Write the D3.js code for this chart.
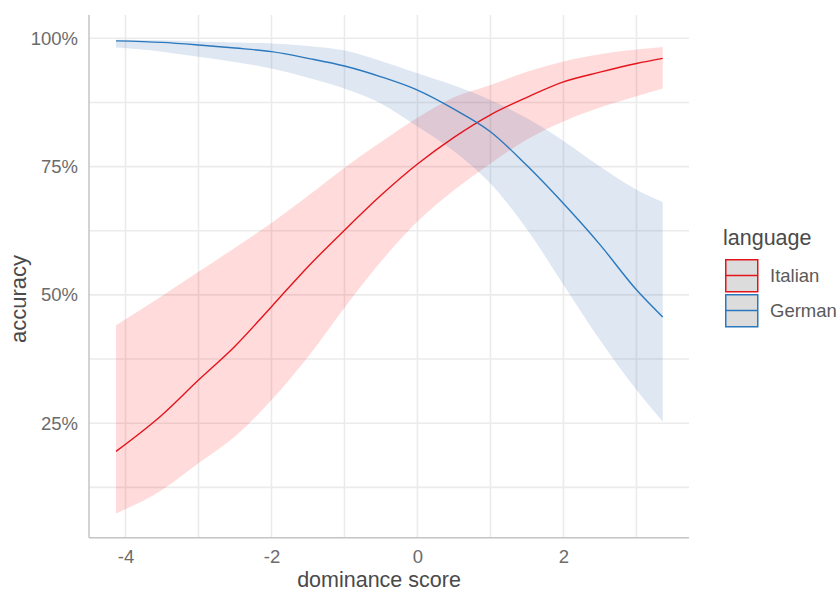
<!doctype html>
<html>
  <head>
    <script src="https://cdnjs.cloudflare.com/ajax/libs/d3/7.8.5/d3.min.js" type="text/JavaScript"></script>
    <style>
      body { margin: 0; background: #fff; }
      text { font-family: "Liberation Sans", Arial, sans-serif; }
    </style>
  </head>
  <body>
    <svg width="840" height="591"></svg>
    <script>
        // dominance score grid and predicted accuracy
        var scores = [-4.13, -3.5, -3, -2.5, -2, -1.5, -1, -0.5, 0, 0.5, 1, 1.5, 2, 2.5, 3, 3.36];

        var italianFit   = [0.195, 0.266, 0.334, 0.400, 0.477, 0.555, 0.626, 0.694, 0.755, 0.807, 0.851, 0.885, 0.915, 0.934, 0.951, 0.961];
        var italianLower = [0.074, 0.120, 0.172, 0.224, 0.295, 0.379, 0.475, 0.565, 0.643, 0.704, 0.756, 0.803, 0.838, 0.865, 0.887, 0.902];
        var italianUpper = [0.441, 0.498, 0.545, 0.592, 0.640, 0.693, 0.748, 0.798, 0.845, 0.885, 0.909, 0.935, 0.955, 0.969, 0.978, 0.983];

        var germanFit    = [0.995, 0.992, 0.987, 0.981, 0.974, 0.961, 0.946, 0.925, 0.899, 0.862, 0.818, 0.752, 0.678, 0.598, 0.510, 0.457];
        var germanLower  = [0.982, 0.974, 0.964, 0.954, 0.941, 0.923, 0.902, 0.873, 0.828, 0.780, 0.717, 0.628, 0.520, 0.412, 0.315, 0.253];
        var germanUpper  = [0.997, 0.996, 0.994, 0.992, 0.990, 0.985, 0.976, 0.956, 0.932, 0.908, 0.880, 0.844, 0.800, 0.750, 0.705, 0.681];

        var languages = ["Italian", "German"];
        var xTicks = [-4, -2, 0, 2];
        var xGrid = [-4, -3, -2, -1, 0, 1, 2, 3];
        var yTicks = [0.25, 0.5, 0.75, 1];
        var yGrid = [0.125, 0.25, 0.375, 0.5, 0.625, 0.75, 0.875, 1];

        var lineColor = { Italian: "#e4141c", German: "#2a78bd" };
        var fillColor = { Italian: "#ff0000", German: "#2060a8" };
        var fillAlpha = { Italian: 0.14, German: 0.15 };

        var series = [
            { lang: "Italian", fit: italianFit, lo: italianLower, hi: italianUpper },
            { lang: "German",  fit: germanFit,  lo: germanLower,  hi: germanUpper }
        ];

        var svg = d3.select("svg");
        var pLeft = 89, pRight = 689, pTop = 15, pBottom = 537.7;

        var x = d3.scaleLinear().domain([-4.5, 3.72]).range([pLeft, pRight]);
        var y = d3.scaleLinear().domain([0, 1]).range([551.5, 38.3]);

        // grid
        svg.append("g").selectAll("line")
            .data(xGrid).enter().append("line")
                .attr("x1", d => x(d)).attr("x2", d => x(d))
                .attr("y1", pTop).attr("y2", pBottom)
                .attr("stroke", "#ebebeb").attr("stroke-width", 1.6);
        svg.append("g").selectAll("line")
            .data(yGrid).enter().append("line")
                .attr("x1", pLeft).attr("x2", pRight)
                .attr("y1", d => y(d)).attr("y2", d => y(d))
                .attr("stroke", "#ebebeb").attr("stroke-width", 1.6);

        // ribbons
        var area = d3.area()
            .x((d, i) => x(scores[i]))
            .y0(d => y(d[0]))
            .y1(d => y(d[1]))
            .curve(d3.curveMonotoneX);
        var line = d3.line()
            .x((d, i) => x(scores[i]))
            .y(d => y(d))
            .curve(d3.curveMonotoneX);

        svg.append("g").selectAll("path")
            .data(series).enter().append("path")
                .attr("d", s => area(s.lo.map((v, i) => [v, s.hi[i]])))
                .attr("fill", s => fillColor[s.lang])
                .attr("fill-opacity", s => fillAlpha[s.lang]);

        svg.append("g").selectAll("path")
            .data(series).enter().append("path")
                .attr("d", s => line(s.fit))
                .attr("fill", "none")
                .attr("stroke", s => lineColor[s.lang])
                .attr("stroke-width", 1.4);

        // axes lines
        svg.append("line").attr("x1", pLeft).attr("x2", pLeft).attr("y1", pTop).attr("y2", pBottom)
            .attr("stroke", "#c4c4c4").attr("stroke-width", 1.5);
        svg.append("line").attr("x1", pLeft).attr("x2", pRight).attr("y1", pBottom).attr("y2", pBottom)
            .attr("stroke", "#c4c4c4").attr("stroke-width", 1.5);

        // tick labels
        var xAxis = svg.append("g")
            .attr("transform", "translate(0," + pBottom + ")")
            .call(d3.axisBottom(x).tickValues(xTicks).tickSize(0).tickPadding(12).tickFormat(d3.format("d")));
        var yAxis = svg.append("g")
            .attr("transform", "translate(" + pLeft + ",0)")
            .call(d3.axisLeft(y).tickValues(yTicks).tickSize(0).tickPadding(11).tickFormat(d3.format(".0%")));
        [xAxis, yAxis].forEach(g => {
            g.select(".domain").remove();
            g.selectAll("text").attr("fill", "#6b6b6b").style("font-size", "18.5px")
                .style("font-family", "'Liberation Sans', Arial, sans-serif");
        });
        xAxis.selectAll("text").text(d => d < 0 ? "-" + Math.abs(d) : d);

        // axis titles
        svg.append("text")
            .attr("x", 379).attr("y", 586.5)
            .attr("text-anchor", "middle")
            .attr("fill", "#4a4a4a").style("font-size", "21.5px")
            .text("dominance score");
        svg.append("text")
            .attr("transform", "translate(26,299) rotate(-90)")
            .attr("text-anchor", "middle")
            .attr("fill", "#4a4a4a").style("font-size", "22px")
            .text("accuracy");

        // legend
        var legend = svg.append("g").attr("transform", "translate(725,245)");
        legend.append("text")
            .attr("x", -2).attr("y", 0)
            .attr("fill", "#4a4a4a").style("font-size", "21.5px")
            .text("language");
        var key = legend.selectAll("g.key")
            .data(languages).enter().append("g")
                .attr("class", "key")
                .attr("transform", (d, i) => "translate(0," + (14 + i * 35) + ")");
        key.append("rect")
            .attr("x", 0.75).attr("y", 0.75).attr("width", 32).attr("height", 32)
            .attr("fill", "#dcdcdc")
            .attr("stroke", d => lineColor[d]).attr("stroke-width", 1.5);
        key.append("line")
            .attr("x1", 1).attr("x2", 33).attr("y1", 16.5).attr("y2", 16.5)
            .attr("stroke", d => lineColor[d]).attr("stroke-width", 1.5);
        key.append("text")
            .attr("x", 45).attr("y", 23)
            .attr("fill", "#5a5a5a").style("font-size", "18.5px")
            .text(d => d);
    </script>
  </body>
</html>
